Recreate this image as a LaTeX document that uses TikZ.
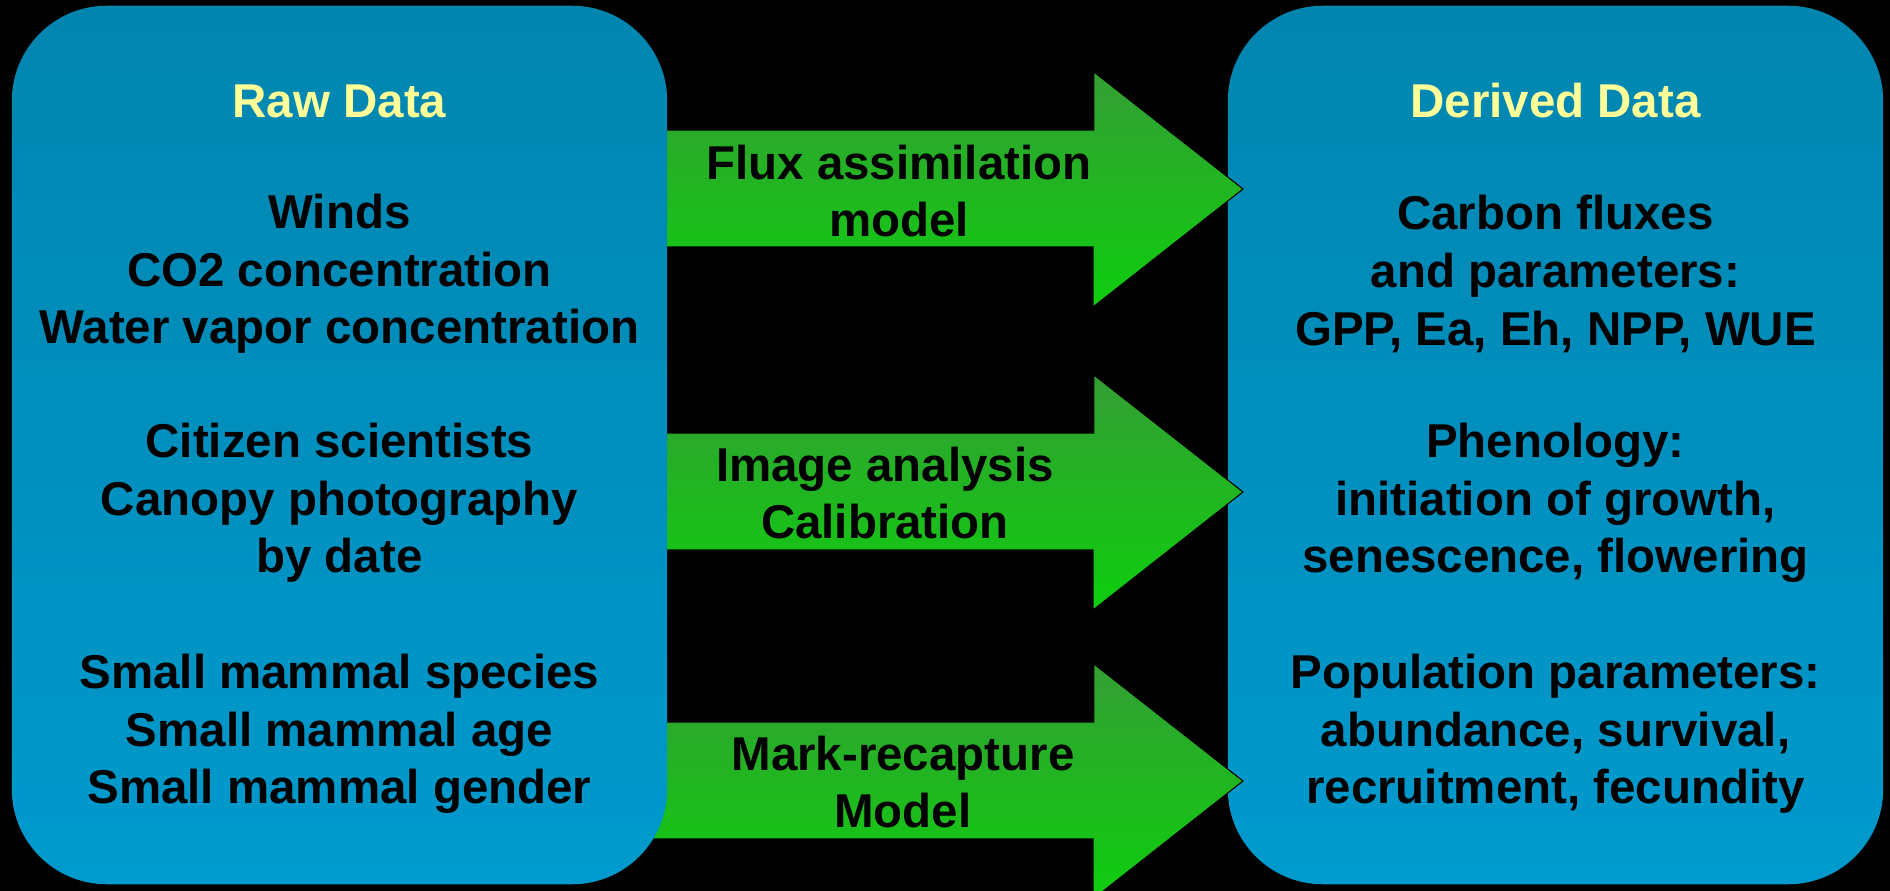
\documentclass[tikz,border=0pt]{standalone}
\usepackage{fontspec}
\setmainfont{Liberation Sans}
\begin{document}
\begin{tikzpicture}[x=0.01cm,y=-0.01cm,
  box/.style={minimum width=6.55cm,minimum height=8.78cm,rounded corners=0.95cm,
    top color=boxtop,bottom color=boxbot,draw=none},
  flow/.style={top color=arrtop,bottom color=arrbot,draw=black,line width=0.3pt},
  txt/.style={align=center,font=\fontsize{13.5}{16.4}\selectfont\bfseries,text=black,inner sep=0pt},
  ttl/.style={txt,text=titleyellow}]
\definecolor{boxtop}{RGB}{0,133,175}
\definecolor{boxbot}{RGB}{0,154,205}
\definecolor{arrtop}{RGB}{52,158,52}
\definecolor{arrbot}{RGB}{14,206,14}
\definecolor{titleyellow}{RGB}{255,255,153}
\fill[black] (0,0) rectangle (1890,891);
\clip (0,0) rectangle (1890,891);
\useasboundingbox (0,0) rectangle (1890,891);
% boxes (positions only; left box redrawn over arrow ends)
\coordinate (rawc) at (339.5,445);
\node[box] (derived) at (1555.5,445) {};
\path (rawc) node[minimum width=6.55cm,minimum height=8.78cm] (raw) {};
% arrows
\coordinate (t1) at (1243,189);
\coordinate (t2) at (1243,492);
\coordinate (t3) at (1243,781);
\foreach \t in {t1,t2,t3}{
  \shadedraw[flow] ([xshift=-0.3cm]raw.east |- \t) ++(0,-59) -- ++(456,0) -- ++(0,-58) -- (\t)
    -- ++(-150,118) -- ++(0,-60) -- ++(-456,0) -- cycle;
}
\node[box] (rawbox) at (rawc) {};
% arrow labels
\node[txt] (a1) at (899,191) {Flux assimilation\\model};
\node[txt] (a2) at (885,493) {Image analysis\\Calibration};
\node[txt] (a3) at (903,782) {Mark-recapture\\Model};
% left texts
\node[ttl] (rawt) at (339.5,101) {Raw Data};
\node[txt] (r1) at (339.5,274) {Winds\\CO2 concentration\\Water vapor concentration};
\node[txt] (r2) at (339.5,503) {Citizen scientists\\Canopy photography\\by date};
\node[txt] (r3) at (339.5,734) {Small mammal species\\Small mammal age\\Small mammal gender};
% right texts
\node[ttl] (dert) at (1555.5,101) {Derived Data};
\node[txt] (d1) at (1555.5,274) {Carbon fluxes\\and parameters:\\GPP, Ea, Eh, NPP, WUE};
\node[txt] (d2) at (1555.5,503) {Phenology:\\initiation of growth,\\senescence, flowering};
\node[txt] (d3) at (1555.5,734) {Population parameters:\\abundance, survival,\\recruitment, fecundity};
\end{tikzpicture}
\end{document}
